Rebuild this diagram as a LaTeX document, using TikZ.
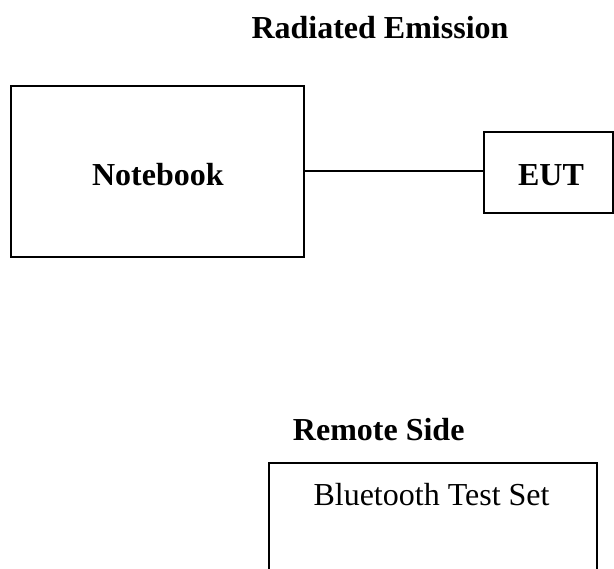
\documentclass[tikz,border=0pt]{standalone}
\usepackage{fontspec}
\setmainfont{Liberation Serif}
\begin{document}
\begin{tikzpicture}[x=0.75pt,y=-0.75pt,
  every node/.style={font=\fontsize{24}{28}\selectfont, inner sep=0pt},
  boxnode/.style={draw, line width=1.5pt, rectangle},
  heading/.style={font=\fontsize{24}{28}\selectfont\bfseries, anchor=base},
  plain/.style={font=\fontsize{24}{28}\selectfont, anchor=base},
  conn/.style={line width=1.5pt}]
\useasboundingbox (0,0) rectangle (614,568);
\clip (0,0) rectangle (614,568);
\node[heading] (title) at (380,38) {Radiated Emission};
\node[boxnode, minimum width=219.4pt, minimum height=128.25pt] (nb) at (157.75,171) {};
\node[heading] (nbtext) at (157.85,185) {Notebook};
\node[boxnode, minimum width=96.4pt, minimum height=60.75pt] (eut) at (548.75,172.5) {};
\node[heading] (euttext) at (551,185) {EUT};
\draw[conn] (nb.east |- 0,171) -- (eut.west |- 0,171);
\node[heading, anchor=base west] (remote) at (292.7,440) {Remote Side};
\node[boxnode, minimum width=246pt, minimum height=120pt, anchor=north] (bt) at (432.5,462) {};
\node[plain] (bttext) at (431.5,505) {Bluetooth Test Set};
\end{tikzpicture}
\end{document}
